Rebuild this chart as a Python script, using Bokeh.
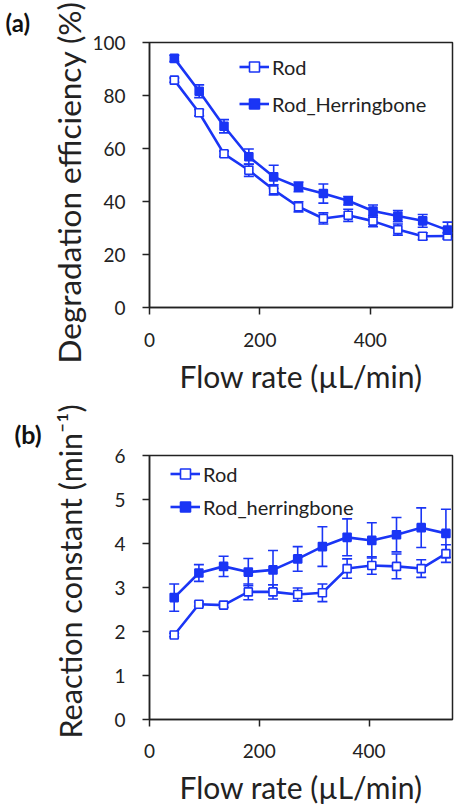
from bokeh.plotting import figure
from bokeh.models import (ColumnDataSource, Whisker, TeeHead, Legend, LegendItem,
                          Title, Range1d, FixedTicker)
from bokeh.layouts import column
from bokeh.embed import file_html
from bokeh.resources import INLINE

# ---------------- data ----------------
flow_rate = [45, 90, 135, 180, 225, 270, 315, 360, 405, 450, 495, 540]

eff_rod = [85.8, 73.5, 58.0, 51.8, 44.4, 38.0, 33.6, 34.8, 32.6, 29.4, 26.9, 27.0]
eff_rod_err = [0.8, 1.2, 1.0, 2.3, 1.9, 1.9, 2.1, 2.3, 2.1, 2.1, 1.3, 1.2]
eff_hb = [94.0, 81.6, 68.4, 56.9, 49.3, 45.5, 43.0, 40.3, 36.4, 34.5, 32.7, 29.2]
eff_hb_err = [1.2, 2.4, 2.5, 2.9, 4.4, 1.8, 3.6, 1.6, 2.3, 2.1, 2.4, 3.0]

k_rod = [1.92, 2.62, 2.60, 2.90, 2.90, 2.84, 2.88, 3.43, 3.50, 3.48, 3.43, 3.77]
k_rod_err = [0.04, 0.05, 0.05, 0.18, 0.16, 0.15, 0.20, 0.22, 0.20, 0.28, 0.20, 0.20]
k_hb = [2.77, 3.33, 3.48, 3.35, 3.40, 3.65, 3.93, 4.14, 4.07, 4.20, 4.36, 4.23]
k_hb_err = [0.31, 0.19, 0.23, 0.31, 0.44, 0.28, 0.45, 0.42, 0.40, 0.39, 0.45, 0.55]

x_ticks = [0, 200, 400]
eff_ticks = [0, 20, 40, 60, 80, 100]
k_ticks = [0, 1, 2, 3, 4, 5, 6]

labels_a = ["Rod", "Rod_Herringbone"]
labels_b = ["Rod", "Rod_herringbone"]
x_title = "Flow rate (µL/min)"
y_title_a = "Degradation efficiency (%)"
y_title_b = "Reaction constant (min⁻¹)"

BLUE = "#1a35f5"
INK = "#222222"
FONT = "Lato"


def panel(height, bl, bt, bb, br, xend, yend, yticks, rod, rod_err, hb, hb_err,
          labels, leg_xy, leg_spacing, tag, tag_size, tag_offset, tag_standoff,
          ytitle, ytitle_size, ytitle_offset, ytitle_standoff,
          xlab_standoff, xtitle_standoff):
    p = figure(width=454, height=height, output_backend="svg", toolbar_location=None,
               x_range=Range1d(0, xend), y_range=Range1d(0, yend),
               min_border_left=bl, min_border_top=bt, min_border_bottom=bb,
               min_border_right=br, title=tag)
    p.title.align = "left"
    p.title.offset = tag_offset
    p.title.standoff = tag_standoff
    p.title.text_font = FONT
    p.title.text_font_size = tag_size
    p.title.text_font_style = "bold"
    p.title.text_color = "#111111"

    p.grid.visible = False
    p.outline_line_color = INK
    p.outline_line_width = 1.5
    for ax, ticks in ((p.xaxis[0], x_ticks), (p.yaxis[0], yticks)):
        ax.ticker = FixedTicker(ticks=ticks)
        ax.minor_tick_line_color = None
        ax.major_tick_in = 0
        ax.major_tick_out = 7
        ax.axis_line_color = INK
        ax.major_tick_line_color = INK
        ax.axis_line_width = 1.5
        ax.major_tick_line_width = 1.5
        ax.major_label_text_font = FONT
        ax.major_label_text_font_size = "19px"
        ax.major_label_text_color = INK
        ax.axis_label_text_font = FONT
        ax.axis_label_text_font_style = "normal"
        ax.axis_label_text_color = INK
    p.xaxis.major_label_standoff = xlab_standoff
    p.yaxis.major_label_standoff = 17
    p.xaxis.axis_label = x_title
    p.xaxis.axis_label_text_font_size = "30px"
    p.xaxis.axis_label_standoff = xtitle_standoff

    p.add_layout(Title(text=ytitle, align="left", offset=ytitle_offset,
                       standoff=ytitle_standoff, text_font=FONT,
                       text_font_size=ytitle_size, text_font_style="normal",
                       text_color=INK), "left")

    s_rod = ColumnDataSource(dict(x=flow_rate, y=rod,
                                  lo=[a - b for a, b in zip(rod, rod_err)],
                                  hi=[a + b for a, b in zip(rod, rod_err)]))
    s_hb = ColumnDataSource(dict(x=flow_rate, y=hb,
                                 lo=[a - b for a, b in zip(hb, hb_err)],
                                 hi=[a + b for a, b in zip(hb, hb_err)]))
    for s in (s_rod, s_hb):
        w = Whisker(source=s, base="x", lower="lo", upper="hi", line_color=BLUE,
                    line_width=1.6,
                    upper_head=TeeHead(size=10, line_color=BLUE, line_width=1.6),
                    lower_head=TeeHead(size=10, line_color=BLUE, line_width=1.6))
        p.add_layout(w)
    l1 = p.line("x", "y", source=s_rod, line_color=BLUE, line_width=2.6)
    m1 = p.scatter("x", "y", source=s_rod, marker="square", size=8, fill_color="white",
                   line_color=BLUE, line_width=1.6)
    l2 = p.line("x", "y", source=s_hb, line_color=BLUE, line_width=2.6)
    m2 = p.scatter("x", "y", source=s_hb, marker="square", size=8, fill_color=BLUE,
                   line_color=BLUE, line_width=1.6)

    leg = Legend(items=[LegendItem(label=labels[0], renderers=[l1, m1]),
                        LegendItem(label=labels[1], renderers=[l2, m2])],
                 location=leg_xy, orientation="vertical",
                 background_fill_alpha=0, border_line_color=None,
                 padding=0, margin=0, spacing=leg_spacing,
                 glyph_width=30, glyph_height=25, label_height=25,
                 label_standoff=3, label_text_font=FONT,
                 label_text_font_size="20px", label_text_color=INK)
    p.add_layout(leg, "center")
    return p


pa = panel(400, 149, 42, 93, 0, 549, 100, eff_ticks,
           eff_rod, eff_rod_err, eff_hb, eff_hb_err, labels_a, (90, 191), 12,
           "(a)", "24px", -144, 11, y_title_a, "31.5px", -56, 4, 18, 8)

pb = panel(407, 143, 55, 86, 2, 552, 6, k_ticks,
           k_rod, k_rod_err, k_hb, k_hb_err, labels_b, (21, 200), 8,
           "(b)", "25px", -135, 13, y_title_b, "30.5px", -19, 48, 17, 8)

layout = column(pa, pb, spacing=0)
open("out.html", "w").write(file_html(layout, INLINE))
